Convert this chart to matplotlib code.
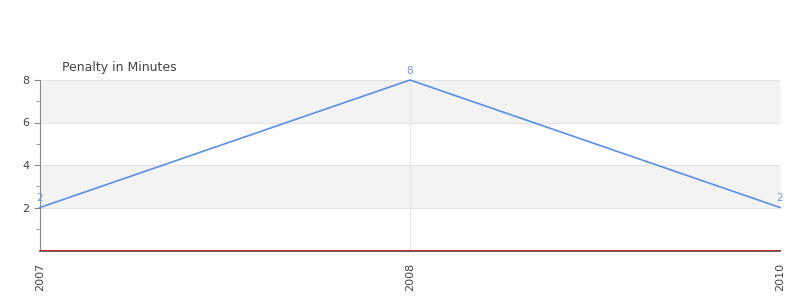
import numpy as np
import matplotlib.pyplot as plt

# data
years = ['2007', '2008', '2010']
penalty = [2, 8, 2]
baseline = [0, 0, 0]

fig = plt.figure(figsize=(8, 3), dpi=100)
ax = fig.add_axes([0.05, 1 - 250 / 300, 0.925, 170 / 300])

# spine position first, it resets tick settings
for s in ['top', 'right']:
    ax.spines[s].set_visible(False)
ax.spines['bottom'].set_position(('outward', 1))
ax.spines['left'].set_color('#888888')
ax.spines['bottom'].set_color('#444444')
ax.spines['bottom'].set_linewidth(1.2)

x = np.arange(len(years))

# alternating bands
for lo, hi in [(2, 4), (6, 8)]:
    ax.axhspan(lo, hi, color='#f3f3f3', zorder=0, lw=0)
for yv in [2, 4, 6, 8]:
    ax.axhline(yv, color='#e3e3e3', lw=0.8, zorder=1)
ax.axvline(x[1], color='#e6e6e6', lw=0.8, zorder=1)
ax.axvline(x[-1], color='#e6e6e6', lw=0.8, zorder=1)

ax.plot(x, baseline, color='#d62020', lw=0.6, zorder=3, clip_on=False)
ax.plot(x, penalty, color='#5b8fe6', lw=1.2, zorder=4, clip_on=False)

for xi, v in zip(x, penalty):
    ax.text(xi, v + 0.2, str(v), color='#6c98e0', fontsize=7.5,
            ha='center', va='bottom', zorder=5)

ax.set_xlim(x[0], x[-1])
ax.set_ylim(0, 8)
ax.set_xticks(x)
ax.set_xticklabels(years, rotation=90, fontsize=8, color='#444444')
ax.set_yticks([2, 4, 6, 8])
ax.set_yticks([1, 3, 5, 7], minor=True)
ax.tick_params(axis='y', labelsize=8, colors='#444444', length=4, color='#888888')
ax.tick_params(axis='y', which='minor', length=3, color='#888888')
ax.tick_params(axis='x', length=0, pad=8)

fig.text(62 / 800, 1 - 67 / 300, 'Penalty in Minutes', fontsize=9,
         color='#444444', va='center', ha='left')

fig.savefig('out.png', dpi=100)
